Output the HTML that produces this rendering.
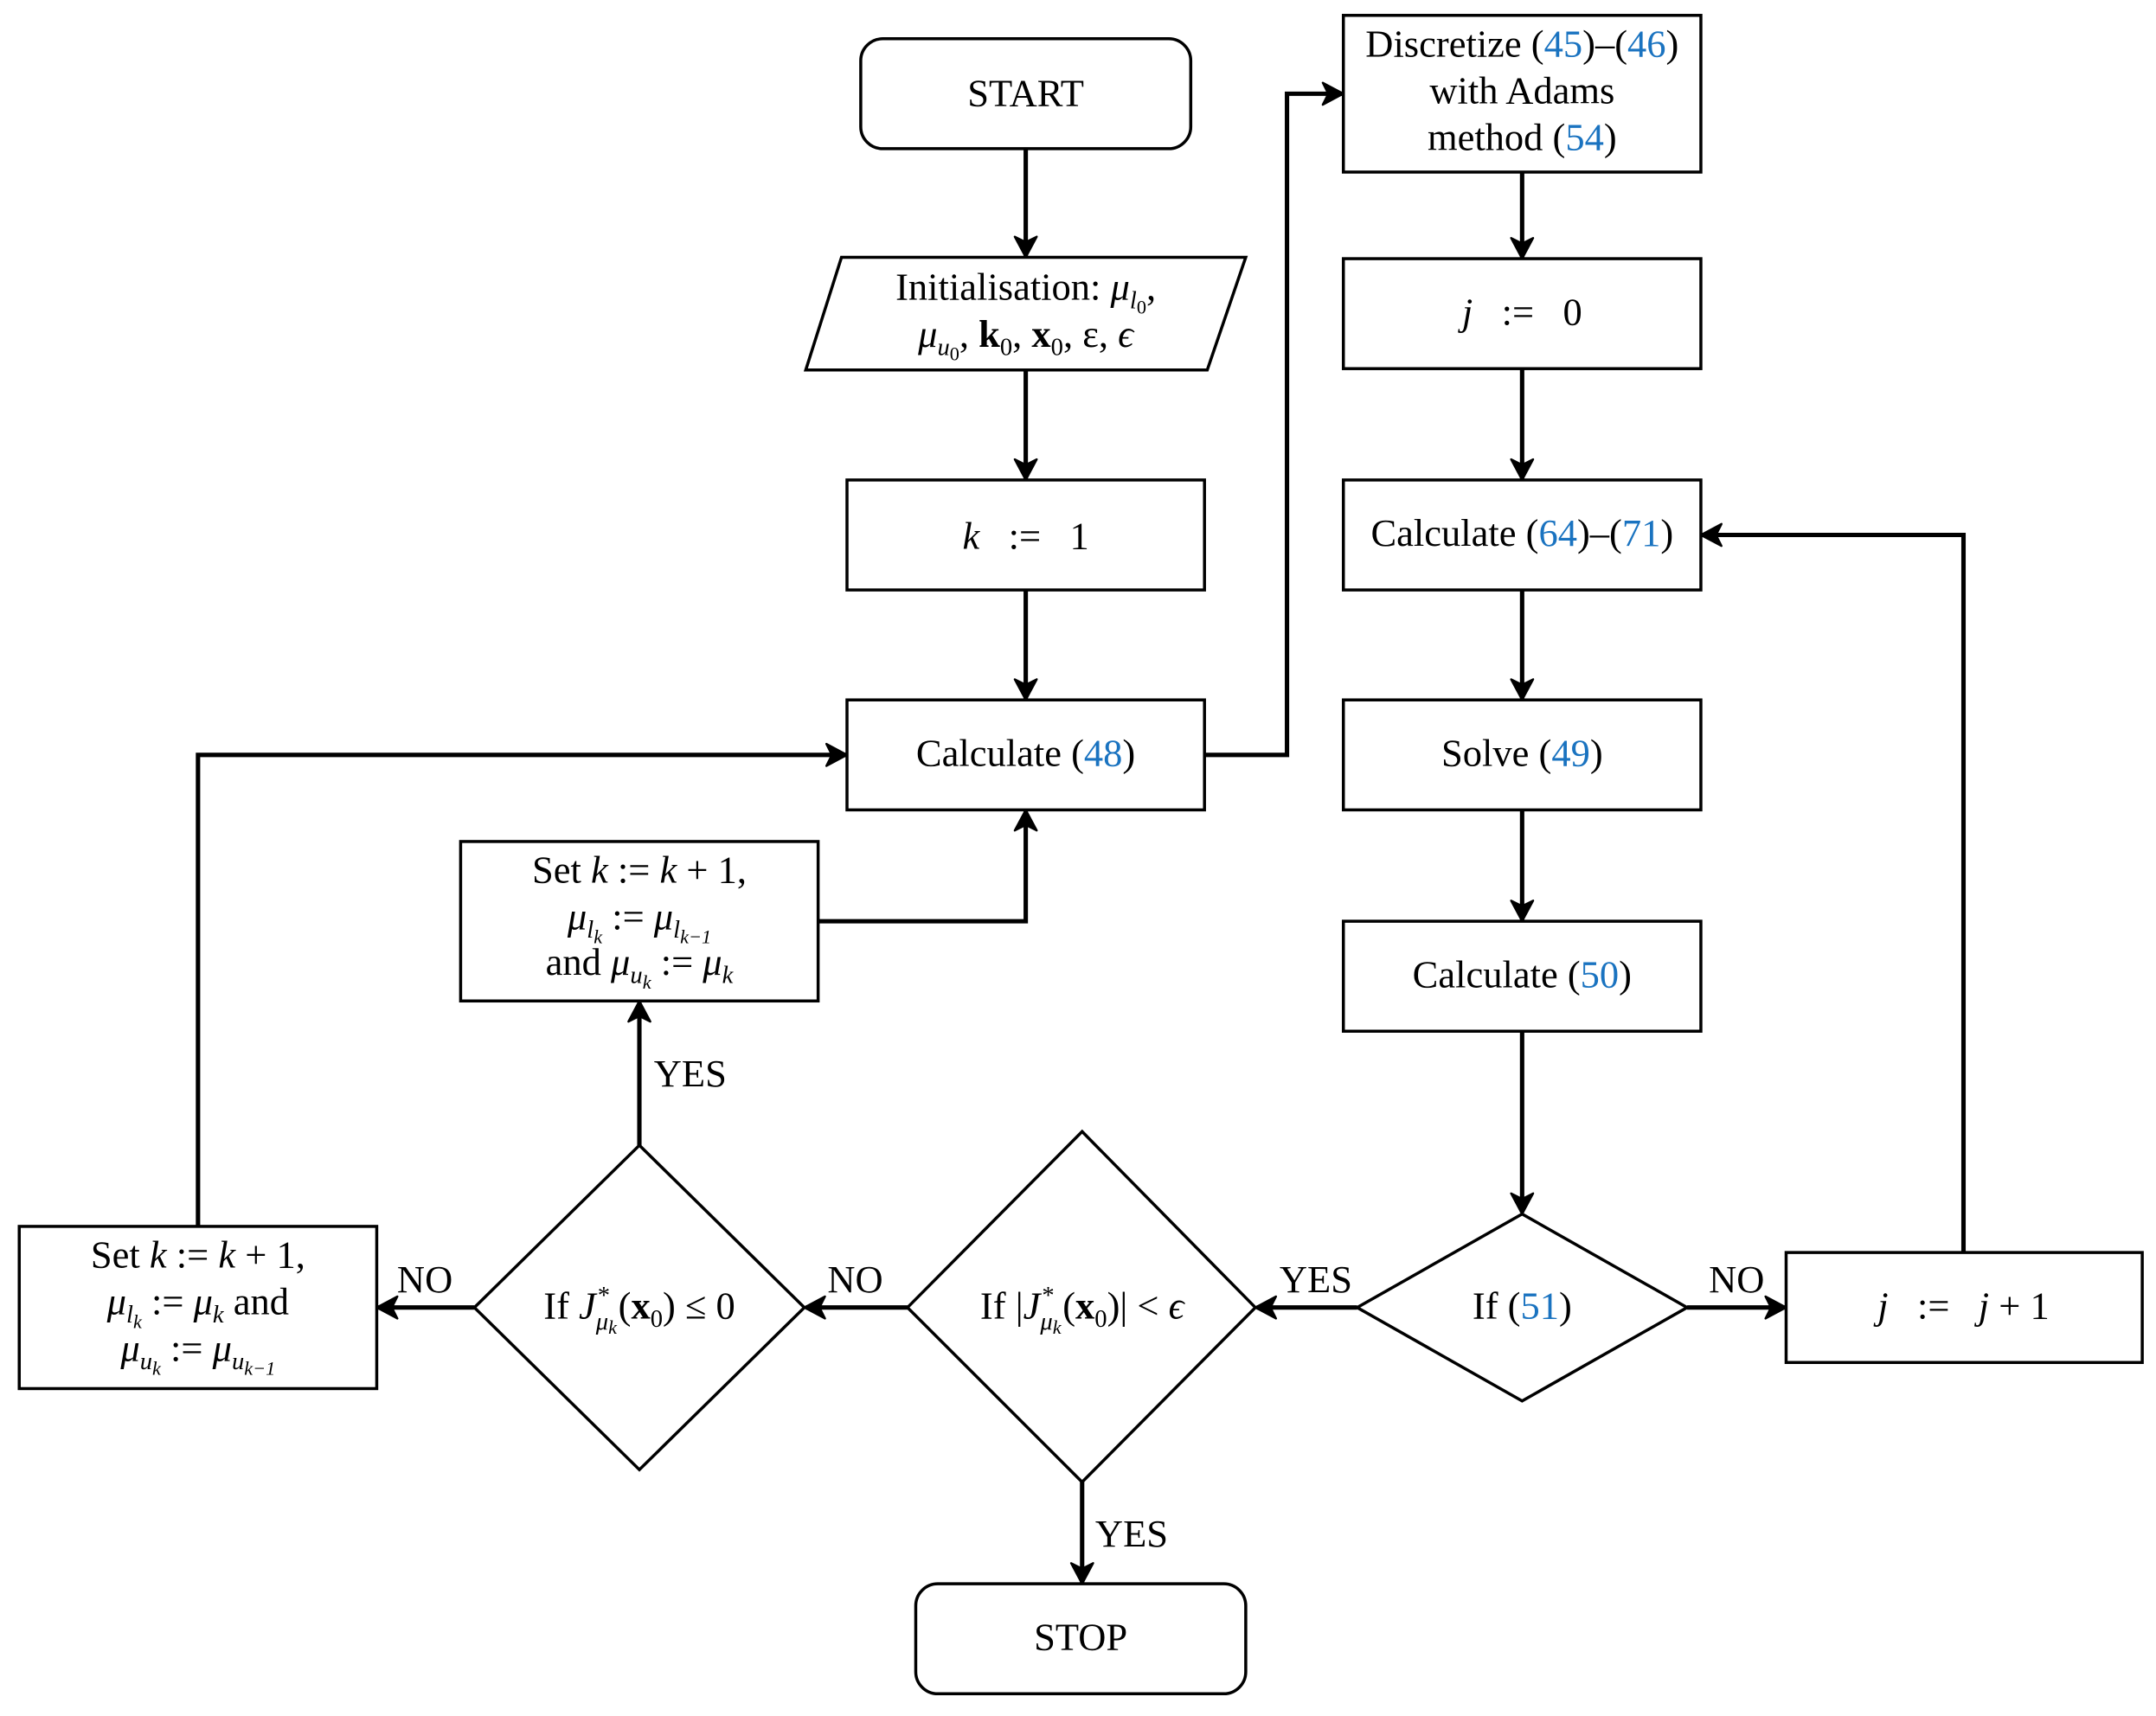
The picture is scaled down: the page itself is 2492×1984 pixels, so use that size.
<!DOCTYPE html>
<html><head><meta charset="utf-8"><style>
html,body{margin:0;padding:0;background:#fff;}
svg{display:block;}
text{font-family:"Liberation Serif",serif;font-size:28px;fill:#000;}
.b{fill:#1a73c0;}
.i{font-style:italic;}
.s{font-size:18px;}
.ss{font-size:14px;}
</style></head><body>
<svg width="2492" height="1984" viewBox="0 0 1568 1248" xmlns="http://www.w3.org/2000/svg">
<defs>
<marker id="h" markerWidth="20" markerHeight="20" refX="17" refY="10" orient="auto" markerUnits="userSpaceOnUse" viewBox="0 0 20 20"><path d="M3,2 L18,10 L3,18 L7,10 Z" fill="#000" stroke="#000" stroke-width="1.5" stroke-linejoin="round"/></marker></defs>
<g fill="none" stroke="#000" stroke-width="2.2">
<rect x="626" y="28" width="240" height="80" rx="16"/>
<polygon points="612,187 906,187 878,269 586,269"/>
<rect x="616" y="349" width="260" height="80"/>
<rect x="616" y="509" width="260" height="80"/>
<rect x="335" y="612" width="260" height="116"/>
<rect x="977" y="11" width="260" height="114"/>
<rect x="977" y="188" width="260" height="80"/>
<rect x="977" y="349" width="260" height="80"/>
<rect x="977" y="509" width="260" height="80"/>
<rect x="977" y="670" width="260" height="80"/>
<polygon points="1107,883 1227,951 1107,1019 987,951"/>
<rect x="1299" y="911" width="259" height="80"/>
<polygon points="787,823 913,951 787,1078 660,951"/>
<polygon points="465,833 585,951 465,1069 345,951"/>
<rect x="14" y="892" width="260" height="118"/>
<rect x="666" y="1152" width="240" height="80" rx="16"/>
</g>
<g fill="none" stroke="#000" stroke-width="3.2" marker-end="url(#h)">
<path d="M746,108 V186"/>
<path d="M746,269 V348"/>
<path d="M746,429 V508"/>
<path d="M876,549 H936 V68 H976"/>
<path d="M1107,125 V187"/>
<path d="M1107,268 V348"/>
<path d="M1107,429 V508"/>
<path d="M1107,589 V669"/>
<path d="M1107,750 V882"/>
<path d="M987,951 H914"/>
<path d="M1227,951 H1298"/>
<path d="M1428,911 V389 H1238"/>
<path d="M660,951 H586"/>
<path d="M787,1078 V1151"/>
<path d="M465,833 V729"/>
<path d="M345,951 H275"/>
<path d="M595,670 H746 V590"/>
<path d="M144,892 V549 H615"/>
</g>
<g text-anchor="middle">
<text x="746" y="77">START</text>
<text x="746" y="218">Initialisation: <tspan class="i">μ</tspan><tspan class="i s" dy="6">l</tspan><tspan class="ss" dy="4">0</tspan><tspan dy="-10">,</tspan></text>
<text x="746" y="252"><tspan class="i">μ</tspan><tspan class="i s" dy="6">u</tspan><tspan class="ss" dy="4">0</tspan><tspan dy="-10">, </tspan><tspan font-weight="bold">k</tspan><tspan class="s" dy="6">0</tspan><tspan dy="-6">, </tspan><tspan font-weight="bold">x</tspan><tspan class="s" dy="6">0</tspan><tspan dy="-6">, ε, </tspan><tspan class="i">ϵ</tspan></text>
<text x="746" y="399" xml:space="preserve"><tspan class="i">k</tspan>   :=   1</text>
<text x="746" y="557">Calculate (<tspan class="b">48</tspan>)</text>
<text x="465" y="642">Set <tspan class="i">k</tspan> := <tspan class="i">k</tspan> + 1,</text>
<text x="465" y="676"><tspan class="i">μ</tspan><tspan class="i s" dy="6">l</tspan><tspan class="i ss" dy="4">k</tspan><tspan dy="-10">  :=  </tspan><tspan class="i">μ</tspan><tspan class="i s" dy="6">l</tspan><tspan class="i ss" dy="4">k−1</tspan></text>
<text x="465" y="709">and <tspan class="i">μ</tspan><tspan class="i s" dy="6">u</tspan><tspan class="i ss" dy="4">k</tspan><tspan dy="-10"> := </tspan><tspan class="i">μ</tspan><tspan class="i s" dy="6">k</tspan></text>
<text x="1107" y="41">Discretize (<tspan class="b">45</tspan>)–(<tspan class="b">46</tspan>)</text>
<text x="1107" y="75">with Adams</text>
<text x="1107" y="109">method (<tspan class="b">54</tspan>)</text>
<text x="1107" y="236" xml:space="preserve"><tspan class="i">j</tspan>   :=   0</text>
<text x="1107" y="397">Calculate (<tspan class="b">64</tspan>)–(<tspan class="b">71</tspan>)</text>
<text x="1107" y="557">Solve (<tspan class="b">49</tspan>)</text>
<text x="1107" y="718">Calculate (<tspan class="b">50</tspan>)</text>
<text x="1107" y="959">If (<tspan class="b">51</tspan>)</text>
<text x="1428" y="959" xml:space="preserve"><tspan class="i">j</tspan>   :=   <tspan class="i">j</tspan> + 1</text>
<text x="787" y="959">If |<tspan class="i">J</tspan><tspan class="i s" dy="8">μ</tspan><tspan class="i ss" dy="3">k</tspan><tspan class="s" dx="-14" dy="-22">*</tspan><tspan dx="6" dy="11">(</tspan><tspan font-weight="bold">x</tspan><tspan class="s" dy="6">0</tspan><tspan dy="-6">)| &lt; </tspan><tspan class="i">ϵ</tspan></text>
<text x="465" y="959">If <tspan class="i">J</tspan><tspan class="i s" dy="8">μ</tspan><tspan class="i ss" dy="3">k</tspan><tspan class="s" dx="-14" dy="-22">*</tspan><tspan dx="6" dy="11">(</tspan><tspan font-weight="bold">x</tspan><tspan class="s" dy="6">0</tspan><tspan dy="-6">) ≤ 0</tspan></text>
<text x="144" y="922">Set <tspan class="i">k</tspan> := <tspan class="i">k</tspan> + 1,</text>
<text x="144" y="956"><tspan class="i">μ</tspan><tspan class="i s" dy="6">l</tspan><tspan class="i ss" dy="4">k</tspan><tspan dy="-10">  :=  </tspan><tspan class="i">μ</tspan><tspan class="i s" dy="6">k</tspan><tspan dy="-6"> and</tspan></text>
<text x="144" y="990"><tspan class="i">μ</tspan><tspan class="i s" dy="6">u</tspan><tspan class="i ss" dy="4">k</tspan><tspan dy="-10">  :=  </tspan><tspan class="i">μ</tspan><tspan class="i s" dy="6">u</tspan><tspan class="i ss" dy="4">k−1</tspan></text>
<text x="786" y="1200">STOP</text>
<text x="957" y="940">YES</text>
<text x="1263" y="940">NO</text>
<text x="622" y="940">NO</text>
<text x="309" y="940">NO</text>
<text x="502" y="790">YES</text>
<text x="823" y="1125">YES</text>
</g>
</svg>
</body></html>
